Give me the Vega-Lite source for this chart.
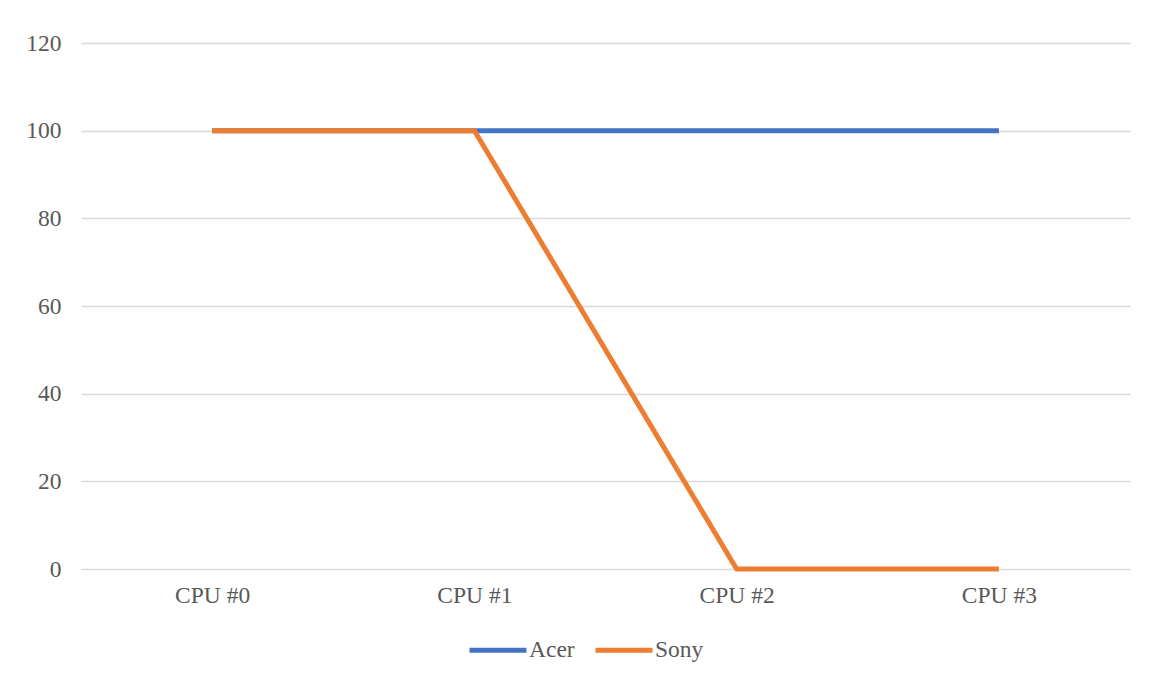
{
  "$schema": "https://vega.github.io/schema/vega-lite/v6.json",
  "width": 1049,
  "height": 526,
  "autosize": {"type": "none"},
  "padding": {"left": 81, "top": 43, "right": 20, "bottom": 108},
  "background": "white",
  "data": {"values": [
    {"cpu": "CPU #0", "series": "Acer", "value": 100},
    {"cpu": "CPU #1", "series": "Acer", "value": 100},
    {"cpu": "CPU #2", "series": "Acer", "value": 100},
    {"cpu": "CPU #3", "series": "Acer", "value": 100},
    {"cpu": "CPU #0", "series": "Sony", "value": 100},
    {"cpu": "CPU #1", "series": "Sony", "value": 100},
    {"cpu": "CPU #2", "series": "Sony", "value": 0},
    {"cpu": "CPU #3", "series": "Sony", "value": 0}
  ]},
  "mark": {"type": "line", "strokeWidth": 5, "strokeJoin": "round"},
  "encoding": {
    "x": {
      "field": "cpu", "type": "nominal", "sort": null,
      "scale": {"type": "point", "padding": 0.5},
      "axis": {"title": null, "labelAngle": 0, "domain": false, "ticks": false, "grid": false,
               "labelPadding": 14, "labelFont": "Liberation Serif", "labelFontSize": 23.5, "labelColor": "#595959"}
    },
    "y": {
      "field": "value", "type": "quantitative",
      "scale": {"domain": [0, 120]},
      "axis": {"title": null, "values": [0, 20, 40, 60, 80, 100, 120], "domain": false, "ticks": false,
               "grid": true, "gridColor": "#d9d9d9", "gridWidth": 1.3, "labelPadding": 20,
               "labelFont": "Liberation Serif", "labelFontSize": 23.5, "labelColor": "#595959"}
    },
    "color": {
      "field": "series", "type": "nominal",
      "scale": {"domain": ["Acer", "Sony"], "range": ["#4472C4", "#ED7D31"]},
      "legend": {"title": null, "orient": "none", "direction": "horizontal", "legendX": 386, "legendY": 576,
                 "symbolType": "stroke", "symbolSize": 3249, "symbolStrokeWidth": 5,
                 "labelFont": "Liberation Serif", "labelFontSize": 23.5, "labelColor": "#595959",
                 "labelOffset": 0, "columnPadding": 10}
    },
    "order": {"field": "series"}
  },
  "config": {"view": {"stroke": null}}
}
